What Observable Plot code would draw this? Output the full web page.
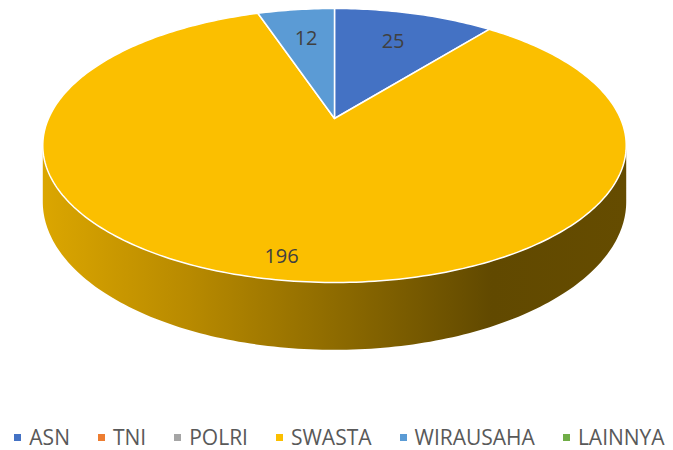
<!DOCTYPE html>
<html>
<head>
<meta charset="utf-8">
<script src="https://cdn.jsdelivr.net/npm/d3@7"></script>
<script src="https://cdn.jsdelivr.net/npm/@observablehq/plot@0.6"></script>
<style>
  body { margin: 0; background: #fff; font-family: "Open Sans", sans-serif; }
  #chart svg { display: block; }
  .legend { display: flex; justify-content: center; align-items: center; height: 30px; line-height: 30px; font-size: 21px; color: #595959; gap: 28px; padding-left: 6px; }
  .legend .item { display: flex; align-items: center; white-space: nowrap; }
  .legend .sw { width: 7px; height: 7px; margin-right: 8px; display: inline-block; }
</style>
</head>
<body>
<div id="chart"></div>
<script>
// ---- data ----
const categories = ["ASN", "TNI", "POLRI", "SWASTA", "WIRAUSAHA", "LAINNYA"];
const values = [25, 0, 0, 196, 12, 0];
const colors = ["#4472C4", "#ED7D31", "#A5A5A5", "#FBBF00", "#5B9BD5", "#70AD47"];

// ---- layout of the 3D pie (perspective parameters) ----
const layout = { tilt: 0.197, squash: 0.4605, depth: 0.189, labelRadius: [0.7, 0.7, 0.7, 0.88, 0.7, 0.7] };

const total = d3.sum(values);
function proj(theta, r, h) {
  const u = r * Math.sin(theta), v = -r * Math.cos(theta);
  const k = 1 - layout.tilt * v;
  return { x: u / k, y: (layout.squash * v + h) / k };
}
const rad = d => d * Math.PI / 180;

// slices (top face)
let acc = 0;
const slices = categories.map((c, i) => {
  const a0 = acc / total * 2 * Math.PI;
  acc += values[i];
  const a1 = acc / total * 2 * Math.PI;
  return { cat: c, value: values[i], color: colors[i], a0, a1, i };
});
const topPts = [];
for (const s of slices) {
  if (s.value <= 0) continue;
  topPts.push({ cat: s.cat, ...proj(0, 0, 0) });
  const n = Math.max(2, Math.ceil((s.a1 - s.a0) / rad(1)));
  for (let j = 0; j <= n; j++) {
    const t = s.a0 + (s.a1 - s.a0) * j / n;
    topPts.push({ cat: s.cat, ...proj(t, 1, 0) });
  }
}

// visible side wall (belongs to the slice covering the front)
const t0 = Math.acos(-layout.tilt), t1 = 2 * Math.PI - Math.acos(-layout.tilt);
const sidePts = [];
const ns = 160;
for (let j = 0; j <= ns; j++) { const t = t0 + (t1 - t0) * j / ns; sidePts.push(proj(t, 1, 0)); }
for (let j = ns; j >= 0; j--) { const t = t0 + (t1 - t0) * j / ns; sidePts.push(proj(t, 1, layout.depth)); }

// labels
const labels = slices.filter(s => s.value > 0).map(s => {
  const m = (s.a0 + s.a1) / 2;
  return { text: String(s.value), ...proj(m, layout.labelRadius[s.i], 0) };
});

const colorScale = { domain: categories, range: colors };

const defs = () => {
  const ns = "http://www.w3.org/2000/svg";
  const d = document.createElementNS(ns, "defs");
  const g = document.createElementNS(ns, "linearGradient");
  g.setAttribute("id", "sideGrad");
  g.setAttribute("x1", "0"); g.setAttribute("x2", "1"); g.setAttribute("y1", "0"); g.setAttribute("y2", "0");
  [["0", "#DBA600"], ["0.25", "#B88A00"], ["0.5", "#8E6B00"], ["0.77", "#614900"], ["1", "#654C00"]].forEach(([o, c]) => {
    const st = document.createElementNS(ns, "stop");
    st.setAttribute("offset", o); st.setAttribute("stop-color", c);
    g.appendChild(st);
  });
  d.appendChild(g);
  return d;
};

const chart = Plot.plot({
  width: 673,
  height: 422,
  margin: 0,
  x: { domain: [-1, 1], range: [48, 620], axis: null },
  y: { domain: [-1, 1], range: [-168, 404], axis: null },
  color: colorScale,
  style: { fontFamily: "Open Sans, sans-serif", background: "#fff" },
  marks: [
    defs,
    Plot.line(sidePts, { x: "x", y: "y", curve: "linear-closed", fill: "url(#sideGrad)", stroke: "none" }),
    Plot.line(topPts, { x: "x", y: "y", z: "cat", curve: "linear-closed", fill: "cat", stroke: "#fff", strokeWidth: 1.5, strokeLinejoin: "round" }),
    Plot.text(labels, { x: "x", y: "y", text: "text", fontSize: 20, fill: "#404040" })
  ]
});
document.getElementById("chart").appendChild(chart);

// legend
const leg = document.createElement("div");
leg.className = "legend";
categories.forEach((c, i) => {
  const it = document.createElement("span");
  it.className = "item";
  const sw = document.createElement("span");
  sw.className = "sw"; sw.style.background = colors[i];
  it.appendChild(sw);
  it.appendChild(document.createTextNode(c));
  leg.appendChild(it);
});
document.body.appendChild(leg);
</script>
</body>
</html>
